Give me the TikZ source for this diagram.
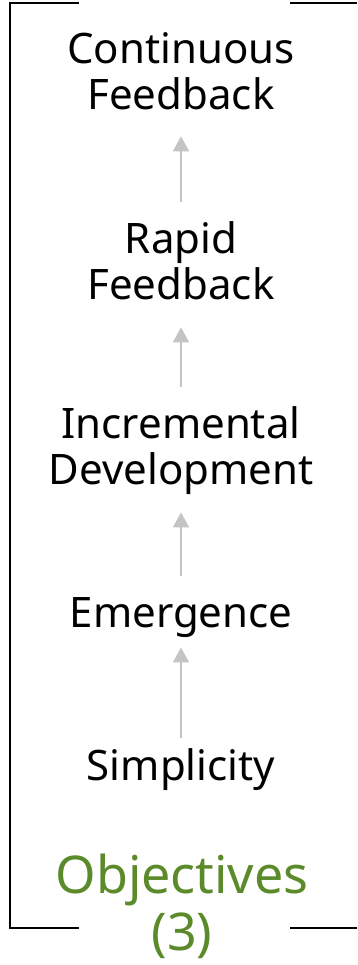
\documentclass[tikz,border=0pt]{standalone}
\usepackage{fontspec}
\setmainfont{Noto Sans}
\usetikzlibrary{arrows.meta}
\definecolor{objgreen}{HTML}{5B8A2A}
\definecolor{arrgray}{HTML}{C4C4C4}
\newcommand\lstr{\rule[-10pt]{0pt}{42pt}}
\newcommand\ostr{\rule[-12pt]{0pt}{52pt}}
\tikzset{
  lbl/.style={anchor=north, inner sep=0pt, align=center, text=black,
    font=\fontsize{42}{46}\selectfont},
  objlbl/.style={anchor=north, inner sep=0pt, align=center, text=objgreen,
    font=\fontsize{52}{57}\selectfont},
  uparr/.style={draw=arrgray, line width=2pt, -{Triangle[width=16pt,length=15pt]}},
  bracket/.style={draw=black, line width=2pt},
}
\begin{document}
\begin{tikzpicture}[x=1pt,y=-1pt]
\useasboundingbox (0,0) rectangle (357,965);
\node[lbl] (cont) at (181,31) {\lstr Continuous\\\lstr Feedback};
\node[lbl] (rapid) at (181,221) {\lstr Rapid\\\lstr Feedback};
\node[lbl] (incr) at (181,406) {\lstr Incremental\\\lstr Development};
\node[lbl] (emer) at (181,595) {\lstr Emergence};
\node[lbl] (simp) at (181,748) {\lstr Simplicity};
\node[objlbl] (obj) at (182,853) {\ostr Objectives\\\ostr (3)};
\draw[uparr, shorten <=19pt, shorten >=17pt] (rapid.north) -- (cont.south);
\draw[uparr, shorten <=19pt, shorten >=18pt] (incr.north) -- (rapid.south);
\draw[uparr, shorten <=19pt, shorten >=18pt] (emer.north) -- (incr.south);
\draw[uparr, shorten <=10pt, shorten >=10pt] (simp.north) -- (emer.south);
\coordinate (tl) at (10,3);
\coordinate (bl) at (10,928);
\draw[bracket] (79,3) -- (tl) -- (bl) -- (79,928);
\draw[bracket] (290,3) -- (357,3);
\draw[bracket] (290,928) -- (357,928);
\end{tikzpicture}
\end{document}
